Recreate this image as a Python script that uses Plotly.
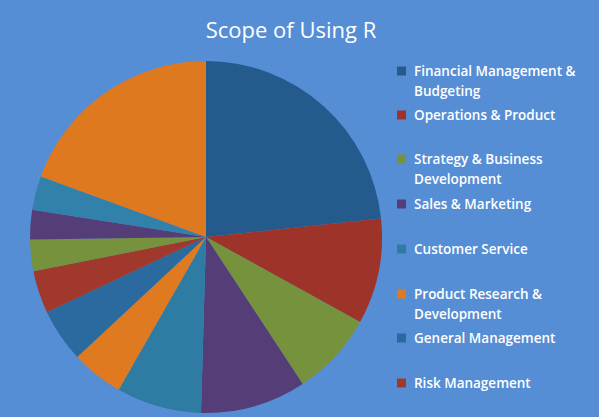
import textwrap
import plotly.graph_objects as go

title = "Scope of Using R"
categories = [
    "Financial Management & Budgeting",
    "Operations & Product",
    "Strategy & Business Development",
    "Sales & Marketing",
    "Customer Service",
    "Product Research & Development",
    "General Management",
    "Risk Management",
    "Other 9",
    "Other 10",
    "Other 11",
    "Other 12",
]
values = [23.3, 9.7, 7.7, 9.7, 7.8, 4.8, 4.9, 3.9, 2.9, 2.7, 3.1, 19.4]
colors = ["#245B8C", "#9E3429", "#76923C", "#553E77", "#2E7CA3", "#DF7A20",
          "#2B6A9E", "#A0392B", "#76923C", "#553E77", "#3281AA", "#DE7920"]
legend_count = 8  # only the first 8 categories are shown in the legend

W, H = 599, 417
BG = "#558ED5"
cx, cy, r = 206, 237, 176

fig = go.Figure(go.Pie(
    labels=categories,
    values=values,
    sort=False,
    direction="clockwise",
    rotation=0,
    textinfo="none",
    marker=dict(colors=colors, line=dict(width=0)),
    domain=dict(x=[(cx - r) / W, (cx + r) / W], y=[1 - (cy + r) / H, 1 - (cy - r) / H]),
    showlegend=False,
))

shapes = []
annotations = []
entry_y = [71, 115, 159, 204, 249, 294, 338, 383]
for i in range(legend_count):
    yc = entry_y[i]
    shapes.append(dict(type="rect", xref="paper", yref="paper",
                       x0=397 / W, x1=406 / W, y0=1 - (yc + 4.5) / H, y1=1 - (yc - 4.5) / H,
                       fillcolor=colors[i], line=dict(width=0)))
    for j, line in enumerate(textwrap.wrap(categories[i], 22)):
        annotations.append(dict(text=line, xref="paper", yref="paper",
                                x=412 / W, y=1 - (yc + 20 * j) / H,
                                xanchor="left", yanchor="middle", showarrow=False,
                                font=dict(family="Open Sans", size=13.5, color="white", weight=600)))

fig.update_layout(
    width=W, height=H,
    margin=dict(l=0, r=0, t=0, b=0),
    paper_bgcolor=BG, plot_bgcolor=BG,
    title=dict(text=title, x=291 / W, xanchor="center", y=1 - 30 / H, yanchor="middle",
               font=dict(family="Open Sans", size=22, color="white", weight=500)),
    shapes=shapes,
    annotations=annotations,
)

fig.write_html("out.html")
